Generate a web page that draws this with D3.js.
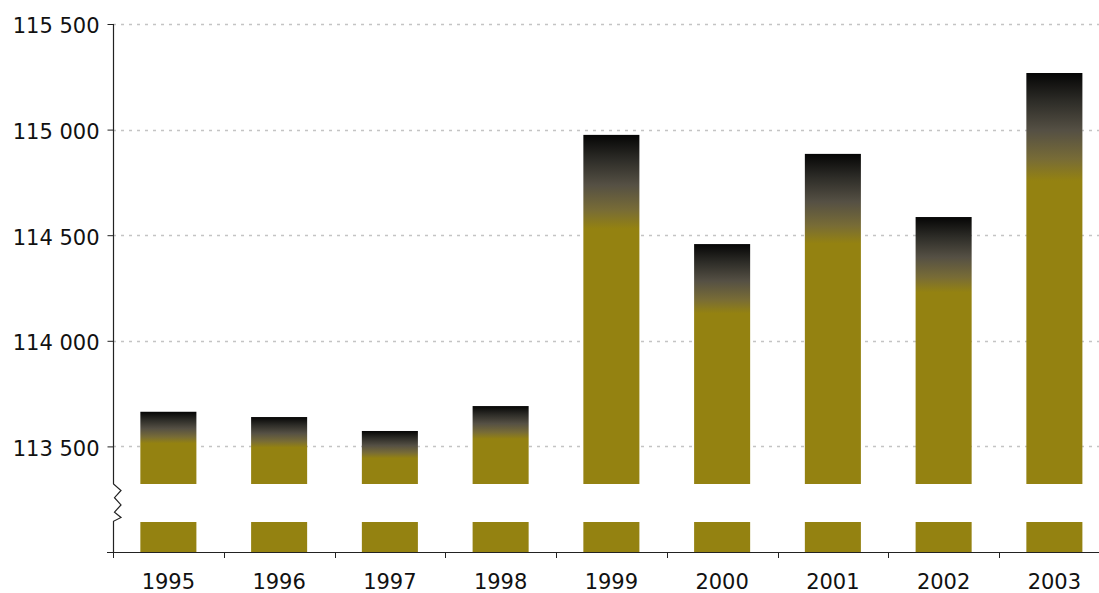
<!DOCTYPE html>
<html>
<head>
<meta charset="utf-8">
<script src="https://cdn.jsdelivr.net/npm/d3@7"></script>
<style>
  html, body { margin: 0; padding: 0; background: #fff; }
  svg { display: block; font-family: "DejaVu Sans", Verdana, sans-serif; }
</style>
</head>
<body>
<svg id="chart" width="1099" height="593"></svg>
<script>
const years = ["1995", "1996", "1997", "1998", "1999", "2000", "2001", "2002", "2003"];
const values = [113664, 113639, 113573, 113691, 114975, 114458, 114885, 114586, 115268];
const yTicks = [113500, 114000, 114500, 115000, 115500];
const yDomain = [113000, 115500];
const breakRange = [113142, 113322];

(function () {
const svg = d3.select("#chart");
const W = 1099;
const mLeft = 113, mTop = 24, mBottom = 552;
const bandStep = 110.75;
const fontSize = 21;

const x = d3.scaleBand().domain(years).range([mLeft, mLeft + bandStep * years.length]).paddingInner(0.494).paddingOuter(0.247);
const y = d3.scaleLinear().domain(yDomain).range([mBottom, mTop]);

const fmt = v => d3.format(",")(v).replace(/,/g, " ");

// gradient
const defs = svg.append("defs");
const grad = defs.append("linearGradient").attr("id", "barGrad")
  .attr("x1", 0).attr("y1", 0).attr("x2", 0).attr("y2", 1);
grad.append("stop").attr("offset", 0).attr("stop-color", "#050505");
grad.append("stop").attr("offset", 0.06).attr("stop-color", "#2e2d28");
grad.append("stop").attr("offset", 0.12).attr("stop-color", "#555044");
grad.append("stop").attr("offset", 0.18).attr("stop-color", "#786c36");
grad.append("stop").attr("offset", 0.225).attr("stop-color", "#948211");
grad.append("stop").attr("offset", 1).attr("stop-color", "#948211");

// gridlines
svg.append("g").selectAll("line").data(yTicks).join("line")
  .attr("x1", mLeft).attr("x2", W)
  .attr("y1", d => Math.round(y(d)) + 0.5).attr("y2", d => Math.round(y(d)) + 0.5)
  .attr("stroke", "#c4c4c4").attr("stroke-width", 1.3).attr("stroke-dasharray", "3,5");

// bars
svg.append("g").selectAll("rect").data(values).join("rect")
  .attr("x", (d, i) => x(years[i]))
  .attr("width", x.bandwidth())
  .attr("y", d => y(d))
  .attr("height", d => y(yDomain[0]) - y(d))
  .attr("fill", "url(#barGrad)");

// axis break gap
svg.append("rect")
  .attr("x", mLeft + 1).attr("width", W - mLeft)
  .attr("y", y(breakRange[1])).attr("height", y(breakRange[0]) - y(breakRange[1]))
  .attr("fill", "#fff");

// y axis
const yAxis = svg.append("g").attr("transform", `translate(${mLeft + 0.5},0)`)
  .call(d3.axisLeft(y).tickValues(yTicks).tickFormat(fmt).tickSize(6).tickPadding(8));
yAxis.select(".domain").remove();
yAxis.selectAll("line").attr("stroke", "#222");
yAxis.selectAll("text").attr("font-size", fontSize).attr("fill", "#111")
  .attr("dy", "0.42em")
  .attr("font-family", "DejaVu Sans, Verdana, sans-serif");

// y axis line with zigzag break
const gTop = y(breakRange[1]), gBot = y(breakRange[0]);
const zh = gBot - gTop;
const X0 = mLeft + 0.5;
const zig = [
  [X0, mTop], [X0, gTop],
  [X0 + 7.5, gTop + zh * 0.17],
  [X0 + 1, gTop + zh * 0.36],
  [X0 + 7.5, gTop + zh * 0.55],
  [X0 + 1, gTop + zh * 0.74],
  [X0 + 7.5, gTop + zh * 0.88],
  [X0, gBot - zh * 0.02],
  [X0, mBottom]
];
svg.append("path").attr("d", d3.line()(zig)).attr("fill", "none").attr("stroke", "#222").attr("stroke-width", 1.2);

// x axis
const xTicksPos = d3.range(years.length + 1).map(i => mLeft + i * bandStep);
const xAxisG = svg.append("g");
xAxisG.append("line").attr("x1", mLeft - 6).attr("x2", W).attr("y1", mBottom + 0.5).attr("y2", mBottom + 0.5)
  .attr("stroke", "#222").attr("stroke-width", 1.2);
xAxisG.selectAll("line.tick").data(xTicksPos).join("line").attr("class", "tick")
  .attr("x1", d => Math.round(d) + 0.5).attr("x2", d => Math.round(d) + 0.5)
  .attr("y1", mBottom).attr("y2", mBottom + 6).attr("stroke", "#222");
xAxisG.selectAll("text").data(years).join("text")
  .attr("x", d => x(d) + x.bandwidth() / 2)
  .attr("y", mBottom + 36.5)
  .attr("text-anchor", "middle")
  .attr("font-size", fontSize).attr("fill", "#111")
  .text(d => d);
})();
</script>
</body>
</html>
